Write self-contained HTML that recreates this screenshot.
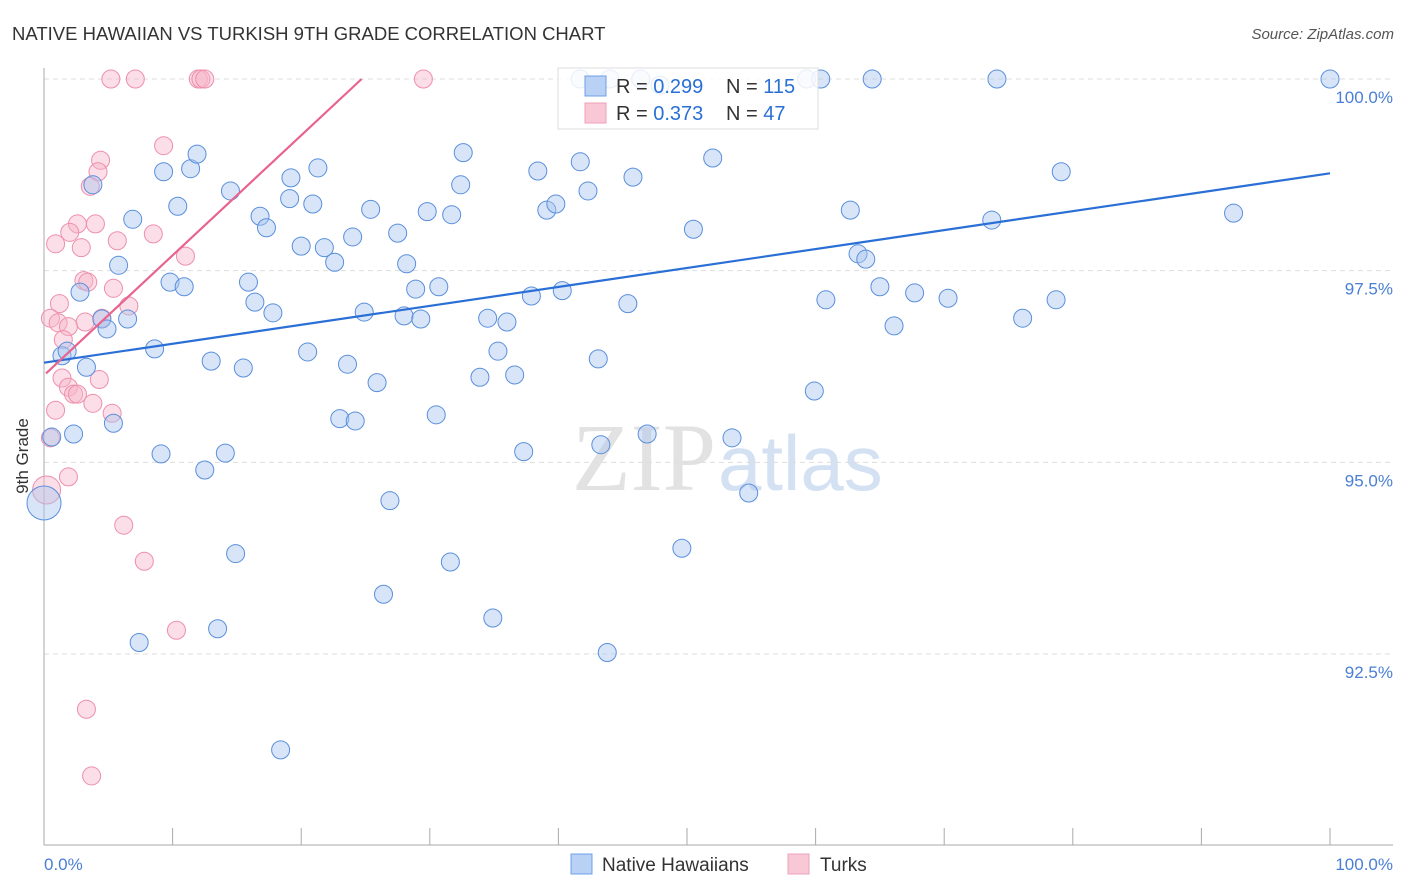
<!DOCTYPE html>
<html><head><meta charset="utf-8"><style>
body{margin:0;background:#fff;font-family:"Liberation Sans",sans-serif;}
svg{display:block}
</style></head><body>
<svg id="chart" width="1406" height="892" font-family="Liberation Sans, sans-serif">
<text x="12" y="40" font-size="18.5" fill="#333">NATIVE HAWAIIAN VS TURKISH 9TH GRADE CORRELATION CHART</text>
<text x="1394" y="39" font-size="15" fill="#555" font-style="italic" text-anchor="end">Source: ZipAtlas.com</text>
<g>
<text x="716" y="490" font-size="96" fill="#e2e2e2" text-anchor="end" font-family="Liberation Serif, serif">ZIP</text>
<text x="718" y="490" font-size="78" fill="#d3e1f3">atlas</text>
</g>
<g id="grid"></g>
<line x1="44" y1="68" x2="44" y2="845" stroke="#aaa"/>
<line x1="44" y1="845" x2="1393" y2="845" stroke="#aaa"/>
<g id="xticks"></g>
<text x="28" y="456" font-size="17" fill="#333" transform="rotate(-90 28 456)" text-anchor="middle">9th Grade</text>
<text x="44" y="870" font-size="17" fill="#4a7fd4">0.0%</text>
<text x="1393" y="870" font-size="17" fill="#4a7fd4" text-anchor="end">100.0%</text>
<g id="pts"></g>
<g id="lines"></g>
<g>
<rect x="558" y="68" width="260" height="61" fill="#fff" fill-opacity="0.85" stroke="#ddd"/>
<rect x="585" y="76" width="21" height="20" fill="#b8d1f5" stroke="#6fa0e8"/>
<rect x="585" y="103" width="21" height="20" fill="#f9c8d6" stroke="#eda0b8"/>
<text x="616" y="93" font-size="20" fill="#333">R = <tspan fill="#2a6fd6">0.299</tspan></text>
<text x="726" y="93" font-size="20" fill="#333">N = <tspan fill="#2a6fd6">115</tspan></text>
<text x="616" y="120" font-size="20" fill="#333">R = <tspan fill="#2a6fd6">0.373</tspan></text>
<text x="726" y="120" font-size="20" fill="#333">N = <tspan fill="#2a6fd6"> 47</tspan></text>
</g>
<g>
<rect x="571" y="854" width="21" height="20" fill="#b8d1f5" stroke="#6fa0e8"/>
<text x="602" y="871" font-size="19" fill="#333">Native Hawaiians</text>
<rect x="788" y="854" width="21" height="20" fill="#f9c8d6" stroke="#eda0b8"/>
<text x="820" y="871" font-size="19" fill="#333">Turks</text>
</g>
</svg>
<script>
const yTicks=[100,97.5,95,92.5];
const yTickLabels=["100.0%","97.5%","95.0%","92.5%"];
const xTickVals=[0,10,20,30,40,50,60,70,80,90,100];
const blueX=[1.4,1.8,3.3,2.8,3.8,4.5,4.9,5.8,6.5,6.9,5.4,2.3,0.6,7.4,8.6,9.1,9.3,9.8,10.4,10.9,11.4,11.9,12.5,13.0,13.5,14.1,14.5,14.9,15.5,15.9,16.4,16.8,17.3,17.8,18.4,19.1,19.2,20.0,20.5,20.9,21.3,21.8,22.6,23.0,23.6,24.0,24.2,24.9,25.4,25.9,26.4,26.9,27.5,28.0,28.2,28.9,29.3,29.8,30.5,30.7,31.6,31.7,32.4,32.6,33.9,34.5,34.9,35.3,36.0,36.6,37.3,37.9,38.4,39.1,39.8,40.3,41.7,42.3,43.1,43.3,43.8,45.4,45.8,46.9,49.6,50.5,52.0,53.5,54.8,59.9,60.8,62.7,63.3,63.9,65.0,66.1,67.7,70.3,73.7,76.1,78.7,79.1,92.5,100,41.7,44.0,46.4,47.9,59.3,60.4,64.4,74.1];
const blueY=[96.39,96.45,96.24,97.22,98.62,96.87,96.74,97.57,96.87,98.17,95.51,95.37,95.33,92.65,96.48,95.11,98.79,97.35,98.34,97.29,98.83,99.02,94.90,96.32,92.83,95.12,98.54,93.81,96.23,97.35,97.09,98.21,98.06,96.95,91.25,98.44,98.71,97.82,96.44,98.37,98.84,97.80,97.61,95.57,96.28,97.94,95.54,96.96,98.30,96.04,93.28,94.50,97.99,96.91,97.59,97.26,96.87,98.27,95.62,97.29,93.70,98.23,98.62,99.04,96.11,96.88,92.97,96.45,96.83,96.14,95.14,97.17,98.80,98.29,98.37,97.24,98.92,98.54,96.35,95.23,92.52,97.07,98.72,95.37,93.88,98.04,98.97,95.32,94.60,95.93,97.12,98.29,97.72,97.65,97.29,96.78,97.21,97.14,98.16,96.88,97.12,98.79,98.25,100,100,100,100,99.92,100,100,100,100];
const pinkX=[5.2,7.1,12.0,12.2,12.5,29.5,9.3,4.4,4.2,3.6,2.6,4.0,2.0,0.9,2.9,5.7,8.5,11.0,3.1,3.4,5.4,1.2,6.6,0.5,1.1,3.2,4.5,1.9,1.5,1.4,1.9,4.3,2.3,2.6,3.8,5.3,0.9,0.5,1.9,6.2,7.8,10.3,3.3,3.7];
const pinkY=[100,100,100,100,100,100,99.13,98.94,98.79,98.60,98.11,98.11,98.00,97.85,97.80,97.89,97.98,97.69,97.37,97.35,97.27,97.07,97.04,96.88,96.82,96.83,96.88,96.77,96.60,96.10,95.98,96.08,95.89,95.89,95.77,95.64,95.68,95.32,94.81,94.18,93.71,92.81,91.78,90.91];
const bigBlue=[0,94.47];
const bigPink=[0.2,94.64];
const blueTrend=[96.30,98.77];
const pinkTrend=[96.16,100,24.7];
const NS='http://www.w3.org/2000/svg';
const sx=v=>44+v*12.86;
const sy=v=>79+(100-v)*76.67;
function mk(tag,attrs,parent){const e=document.createElementNS(NS,tag);for(const k in attrs)e.setAttribute(k,attrs[k]);document.getElementById(parent).appendChild(e);return e;}
yTicks.forEach((t,i)=>{
 const l=mk('line',{x1:44,x2:1393,y1:sy(t),y2:sy(t),stroke:'#ddd','stroke-dasharray':'5,4'},'grid');
 
 
 const tx=mk('text',{x:1393,y:sy(t)+24,'font-size':17,fill:'#4a7fd4','text-anchor':'end'},'grid');
 tx.textContent=yTickLabels[i];
 
 
});
xTickVals.forEach(v=>{
 const l=mk('line',{x1:sx(v),x2:sx(v),y1:828,y2:845,stroke:'#aaa'},'xticks');
 
 
});
pinkX.forEach((x,i)=>{
 const c=mk('circle',{cx:sx(x),cy:sy(pinkY[i]),r:9,fill:'#f6b6c9','fill-opacity':0.45,stroke:'#ee8fac','stroke-width':1},'pts');
 
 
});
blueX.forEach((x,i)=>{
 const c=mk('circle',{cx:sx(x),cy:sy(blueY[i]),r:9,fill:'#a9c6f0','fill-opacity':0.45,stroke:'#5a8fdc','stroke-width':1},'pts');
 
 
});
const bp=mk('circle',{cx:sx(bigPink[0]),cy:sy(bigPink[1]),r:14,fill:'#f6b6c9','fill-opacity':0.45,stroke:'#ee8fac'},'pts');


const bb=mk('circle',{cx:sx(bigBlue[0]),cy:sy(bigBlue[1]),r:17,fill:'#a9c6f0','fill-opacity':0.45,stroke:'#5a8fdc'},'pts');


const bl=mk('line',{x1:sx(0),y1:sy(blueTrend[0]),x2:sx(100),y2:sy(blueTrend[1]),stroke:'#2a6fd6','stroke-width':2.2},'lines');


const pl=mk('line',{x1:sx(0)+2,y1:sy(pinkTrend[0]),x2:sx(pinkTrend[2]),y2:sy(pinkTrend[1]),stroke:'#e8648f','stroke-width':2.2},'lines');


</script>
</body></html>
